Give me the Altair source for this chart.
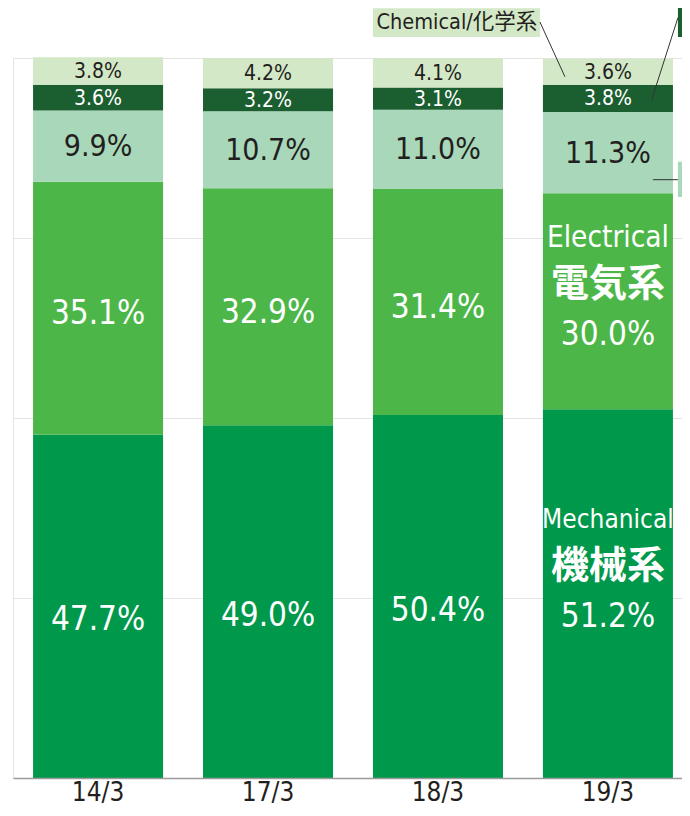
import altair as alt
import pandas as pd

# ---- data ----
periods = ["14/3", "17/3", "18/3", "19/3"]
mechanical = [47.7, 49.0, 50.4, 51.2]
electrical = [35.1, 32.9, 31.4, 30.0]
segment3 = [9.9, 10.7, 11.0, 11.3]
segment4 = [3.6, 3.2, 3.1, 3.8]
chemical = [3.8, 4.2, 4.1, 3.6]

seg_names = ["Mechanical", "Electrical", "Seg3", "Seg4", "Chemical"]
seg_values = [mechanical, electrical, segment3, segment4, chemical]
seg_colors = ["#00984a", "#4cb748", "#a8d8b9", "#1b5e30", "#d3e8c6"]

FONT = "DejaVu Sans Condensed, Liberation Sans Narrow, Noto Sans CJK JP, sans-serif"
CJK = "Noto Sans CJK JP"
DARK = "#231f20"

rows = []
for i, p in enumerate(periods):
    base = 0.0
    for name, vals in zip(seg_names, seg_values):
        v = vals[i]
        rows.append({"period": p, "seg": name, "value": v,
                     "y0": base, "y1": base + v, "ymid": base + v / 2,
                     "label": f"{v:.1f}%"})
        base += v
df = pd.DataFrame(rows)

xenc = alt.X("period:N", sort=periods,
             scale=alt.Scale(domain=periods, paddingInner=0.235, paddingOuter=0.118, range=[0, 680]),
             axis=alt.Axis(title=None, labelAngle=0, ticks=False, domainColor="#9a9a9a",
                           domainWidth=1.5, labelFontSize=26, labelColor=DARK,
                           labelFont=FONT, labelPadding=22, labelBaseline="alphabetic",
                           grid=False, zindex=1))
yscale = alt.Scale(domain=[0, 100], nice=False, zero=True)

bars = alt.Chart(df).mark_bar().encode(
    x=xenc,
    y=alt.Y("y0:Q", scale=yscale,
            axis=alt.Axis(title=None, labels=False, ticks=False, values=[0, 25, 50, 75, 100],
                          grid=True, gridColor="#e3e3e3", domainColor="#e3e3e3")),
    y2="y1:Q",
    color=alt.Color("seg:N", scale=alt.Scale(domain=seg_names, range=seg_colors), legend=None),
)

layers = [bars]

# per-segment labels: (fontSize, color, dy)
styles = {
    "Mechanical": (33, "white", 14),
    "Electrical": (33, "white", 6),
    "Seg3": (30, DARK, 1),
    "Seg4": (21, "white", 1),
    "Chemical": (21, DARK, 1),
}
for name, (fs, col, dy) in styles.items():
    sub = df[df["seg"] == name]
    if name in ("Mechanical", "Electrical"):
        sub = sub[sub["period"] != "19/3"]
    layers.append(
        alt.Chart(sub).mark_text(font=FONT, fontSize=fs, color=col, dy=dy, baseline="middle").encode(
            x=alt.X("period:N", sort=periods), y=alt.Y("ymid:Q"), text="label:N")
    )

# 19/3 three-line labels
last = df[(df["period"] == "19/3") & (df["seg"].isin(["Mechanical", "Electrical"]))].copy()
en_names = {"Mechanical": "Mechanical", "Electrical": "Electrical"}
jp_names = {"Mechanical": "機械系", "Electrical": "電気系"}
last["en"] = last["seg"].map(en_names)
last["jp"] = last["seg"].map(jp_names)
for seg, en_dy, jp_dy, pct_dy, en_fs in [("Mechanical", -74, -27, 23, 26),
                                         ("Electrical", -63, -16, 34, 29.5)]:
    s = last[last["seg"] == seg]
    layers.append(alt.Chart(s).mark_text(font=FONT, fontSize=en_fs, color="white", dy=en_dy,
                                         baseline="middle").encode(
        x=alt.X("period:N", sort=periods), y="ymid:Q", text="en:N"))
    layers.append(alt.Chart(s).mark_text(font=CJK, fontSize=38, fontWeight="bold", color="white",
                                         dy=jp_dy, baseline="middle").encode(
        x=alt.X("period:N", sort=periods), y="ymid:Q", text="jp:N"))
    layers.append(alt.Chart(s).mark_text(font=FONT, fontSize=33, color="white", dy=pct_dy,
                                         baseline="middle").encode(
        x=alt.X("period:N", sort=periods), y="ymid:Q", text="label:N"))

# ---- callouts anchored to the 19/3 band ----
ann = pd.DataFrame({"period": ["19/3"], "chem_text": ["Chemical/化学系"]})
bx = alt.X("period:N", sort=periods, bandPosition=0)
bx2 = alt.X2("period", bandPosition=0)

def box(xo, x2o, ya, yb, color):
    return alt.Chart(ann).mark_rect(color=color, xOffset=xo, x2Offset=x2o).encode(
        x=bx, x2=bx2, y=alt.Y(datum=ya), y2=alt.Y2(datum=yb))

def leader(xo, x2o, ya, yb):
    return alt.Chart(ann).mark_rule(color="#333333", strokeWidth=1, xOffset=xo, x2Offset=x2o).encode(
        x=bx, x2=bx2, y=alt.Y(datum=ya), y2=alt.Y2(datum=yb))

layers += [
    box(-170, -3, 106.9, 102.9, "#d3e8c6"),
    alt.Chart(ann).mark_text(font=FONT, fontSize=21.5, color=DARK, xOffset=-86, baseline="middle").encode(
        x=bx, y=alt.Y(datum=104.8), text="chem_text:N"),
    leader(-3, 22, 105.0, 97.4),
    box(135, 170, 108.1, 102.9, "#1b5e30"),
    leader(109, 135, 94.3, 105.6),
    box(135, 170, 85.6, 80.7, "#a8d8b9"),
    leader(110, 135, 83.1, 83.1),
]

chart = alt.layer(*layers).properties(
    width=669, height=720,
    autosize=alt.AutoSizeParams(type="none"),
    padding={"left": 5, "top": 50, "right": 0, "bottom": 30},
).configure_view(stroke=None)

chart.save("out.html", embed_options={"renderer": "svg", "actions": False})
